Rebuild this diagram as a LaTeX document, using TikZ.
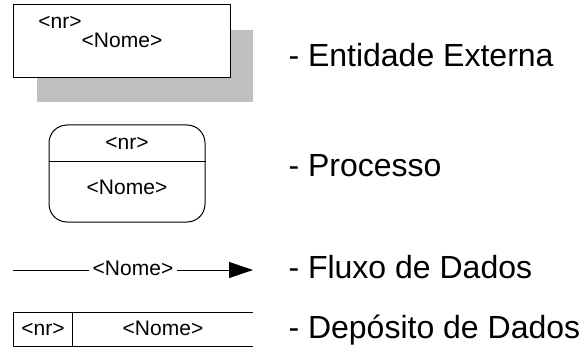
\documentclass[tikz,border=0pt]{standalone}
\usepackage{fontspec}
\setmainfont{Liberation Sans}
\usetikzlibrary{arrows.meta,calc}

\begin{document}
\begin{tikzpicture}[x=1pt,y=-1pt, line width=1pt,
sombra/.style ={rectangle, draw=none, fill=black!25, minimum width=216pt, minimum height=72pt, inner sep=0pt},
ext/.style ={rectangle, draw, fill=white, minimum width=217pt, minimum height=73pt, inner sep=0pt},
proc/.style ={rectangle, draw, rounded corners=18pt, minimum width=156pt, minimum height=97pt, inner sep=0pt},
txt/.style ={inner sep=0pt, anchor=base, font=\fontsize{21}{24}\selectfont},
leg/.style ={inner sep=0pt, anchor=base west, font=\fontsize{32}{38}\selectfont}]

\useasboundingbox (0,0) rectangle (585,347);

% entidade externa
\draw (145,66) node[sombra] (Somb) {};
\draw (121.5,41.5) node[ext] (Ent) {};
\draw (60,29) node[txt] (EntNr) {<nr>};
\draw (122,48) node[txt] (EntNome) {<Nome>};

% processo
\draw (127,173.5) node[proc] (Proc) {};
\draw (Proc.west |- 0,162) -- (Proc.east |- 0,162);
\draw (127,150) node[txt] (ProcNr) {<nr>};
\draw (127,194) node[txt] (ProcNome) {<Nome>};

% fluxo de dados
\coordinate (FluxoIni) at (13,270);
\coordinate (FluxoFim) at (253,270);
\draw (133,275) node[txt, inner xsep=3pt] (FluxoNome) {<Nome>};
\draw (FluxoIni) -- (FluxoIni -| FluxoNome.west);
\draw[-{Triangle[length=24pt,width=16pt]}] (FluxoIni -| FluxoNome.east) -- (FluxoFim);

% deposito de dados
\coordinate (DepA) at (253,312);
\coordinate (DepB) at (13,312);
\coordinate (DepC) at (13,346);
\coordinate (DepD) at (253,346);
\draw (DepA) -- (DepB) -- (DepC) -- (DepD);
\draw (72,312) -- (72,346);
\draw (43,335) node[txt] (DepNr) {<nr>};
\draw (163,335) node[txt] (DepNome) {<Nome>};

% legendas
\draw (288,67) node[leg] (LegEnt) {- Entidade Externa};
\draw (288,177) node[leg] (LegProc) {- Processo};
\draw (288,278) node[leg] (LegFluxo) {- Fluxo de Dados};
\draw (288,338) node[leg] (LegDep) {- Depósito de Dados};

\end{tikzpicture}
\end{document}
